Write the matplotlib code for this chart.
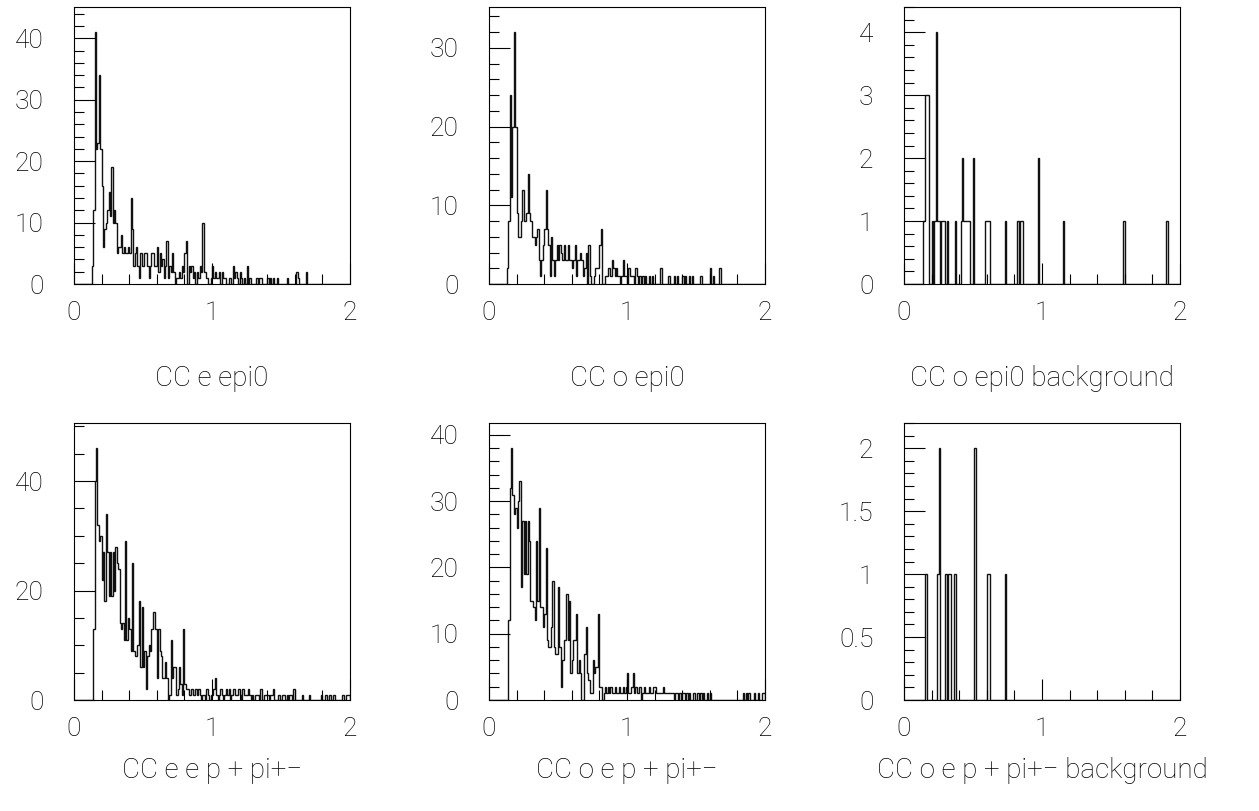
import matplotlib
matplotlib.use("Agg")
import matplotlib.pyplot as plt
import numpy as np
from matplotlib.ticker import MultipleLocator, FuncFormatter

# thin sans to mimic the PAW/Hershey look, DejaVu as fallback
plt.rcParams['font.family'] = ['Roboto', 'DejaVu Sans']
plt.rcParams['font.weight'] = 'light'

# 200 bins of width 0.01 between 0 and 2
nbins = 200
edges = np.linspace(0, 2, nbins + 1)

# dense histograms: first filled bin (lower edge) + consecutive counts
e_epi0_start = 0.13
e_epi0_counts = [3, 12, 41, 22, 23, 34, 22, 16, 6, 9, 10, 12, 15, 11, 19, 10, 12, 10, 5, 6,
                 6, 8, 5, 6, 5, 5, 6, 5, 14, 9, 3, 5, 6, 3, 1, 5, 3, 3, 5, 5,
                 3, 1, 3, 5, 5, 3, 3, 6, 2, 5, 3, 4, 1, 3, 7, 1, 3, 2, 5, 2,
                 0, 1, 1, 2, 1, 3, 2, 5, 7, 0, 3, 2, 3, 1, 2, 0, 2, 1, 3, 2,
                 10, 2, 2, 1, 0, 0, 1, 3, 1, 2, 1, 1, 2, 0, 2, 1, 1, 0, 0, 1,
                 1, 0, 3, 1, 2, 1, 0, 2, 1, 0, 1, 0, 3, 0, 1, 0, 0, 0, 0, 1,
                 0, 1, 1, 0, 0, 0, 0, 1, 0, 1, 0, 1, 0, 0, 1, 0, 0, 0, 0, 0,
                 0, 1, 0, 0, 0, 0, 0, 0, 2, 1, 0, 0, 0, 0, 0, 2]

o_epi0_start = 0.13
o_epi0_counts = [2, 8, 24, 11, 20, 32, 20, 9, 6, 6, 8, 12, 8, 8, 9, 14, 9, 8, 6, 6,
                 5, 6, 7, 3, 1, 3, 5, 7, 12, 7, 5, 1, 6, 3, 1, 3, 5, 3, 5, 4,
                 3, 5, 3, 3, 5, 3, 3, 2, 3, 5, 1, 3, 3, 4, 3, 1, 2, 4, 0, 5,
                 1, 0, 0, 1, 2, 2, 2, 5, 7, 0, 0, 1, 1, 2, 2, 1, 3, 2, 1, 2,
                 1, 1, 0, 1, 3, 1, 1, 0, 2, 1, 1, 1, 0, 2, 1, 0, 1, 0, 1, 0,
                 1, 0, 0, 1, 0, 1, 0, 0, 0, 0, 0, 2, 0, 0, 0, 0, 0, 1, 0, 0,
                 0, 1, 0, 1, 0, 0, 0, 1, 0, 1, 0, 0, 1, 0, 1, 0, 0, 0, 0, 0,
                 1, 0, 0, 0, 0, 0, 0, 2, 0, 1, 0, 0, 0, 0, 2]

e_epp_start = 0.14
e_epp_counts = [13, 40, 46, 32, 29, 30, 22, 27, 18, 34, 27, 19, 27, 19, 27, 20, 28, 25, 24, 14,
                13, 14, 11, 29, 11, 15, 13, 9, 25, 9, 8, 8, 10, 18, 6, 17, 6, 9, 2, 8,
                10, 9, 13, 16, 16, 13, 4, 13, 9, 8, 4, 4, 7, 4, 0, 1, 11, 4, 6, 6,
                1, 2, 6, 3, 1, 13, 3, 2, 2, 1, 1, 2, 1, 1, 2, 1, 2, 1, 0, 1,
                1, 0, 2, 1, 0, 1, 1, 2, 4, 1, 0, 1, 2, 1, 0, 1, 2, 1, 2, 0,
                1, 2, 2, 1, 1, 2, 1, 0, 2, 1, 1, 1, 2, 1, 0, 1, 0, 1, 1, 1,
                0, 2, 0, 0, 1, 1, 1, 0, 1, 1, 2, 0, 0, 0, 1, 0, 0, 1, 1, 0,
                1, 0, 1, 1, 0, 2, 0, 0, 0, 0, 0, 1, 0, 0, 0, 0, 1, 0, 0, 0,
                0, 0, 0, 0, 0, 1, 0, 0, 1, 0, 0, 1, 0, 0, 1, 0, 0, 0, 0, 0,
                1, 1, 0, 1, 1, 1]

o_epp_start = 0.14
o_epp_counts = [12, 32, 38, 31, 28, 29, 26, 30, 33, 17, 27, 19, 27, 19, 27, 24, 15, 15, 14, 12,
                24, 15, 29, 14, 14, 11, 13, 23, 9, 8, 8, 11, 18, 8, 7, 7, 17, 8, 2, 6,
                9, 9, 16, 9, 15, 4, 6, 9, 9, 13, 4, 6, 4, 0, 0, 7, 11, 4, 3, 1,
                1, 6, 4, 5, 5, 13, 2, 2, 0, 1, 2, 1, 2, 1, 2, 1, 1, 2, 1, 1,
                2, 1, 1, 2, 1, 2, 4, 1, 1, 2, 4, 1, 2, 1, 1, 2, 0, 1, 2, 1,
                1, 1, 2, 1, 1, 2, 2, 1, 1, 1, 1, 1, 2, 1, 1, 1, 1, 1, 1, 1,
                0, 1, 1, 0, 1, 0, 1, 1, 0, 1, 0, 1, 0, 0, 1, 0, 0, 1, 0, 1,
                0, 1, 0, 0, 1, 0, 1, 0, 0, 0, 0, 0, 0, 0, 0, 0, 0, 0, 0, 0,
                0, 0, 0, 0, 0, 0, 0, 0, 0, 0, 1, 0, 1, 0, 1, 0, 0, 0, 1, 0,
                0, 1, 0, 0, 1, 1]

# sparse (background) histograms: bin lower edges and counts
bg_epi0_x = [0.14, 0.15, 0.16, 0.17, 0.20, 0.22, 0.23, 0.24, 0.25, 0.27, 0.28, 0.29,
             0.31, 0.37, 0.41, 0.42, 0.43, 0.44, 0.45, 0.46, 0.47, 0.50, 0.59, 0.60,
             0.61, 0.73, 0.82, 0.84, 0.85, 0.97, 1.15, 1.59, 1.90]
bg_epi0_n = [1, 3, 3, 3, 1, 1, 4, 1, 1, 1, 1, 1,
             1, 1, 1, 2, 1, 1, 1, 1, 1, 2, 1, 1,
             1, 1, 1, 1, 1, 2, 1, 1, 1]

bg_epp_x = [0.15, 0.16, 0.24, 0.25, 0.30, 0.32, 0.33, 0.36, 0.37, 0.51, 0.60, 0.61, 0.73]
bg_epp_n = [1, 1, 1, 2, 1, 1, 1, 1, 1, 2, 1, 1, 1]

titles = ["CC e epi0", "CC o epi0", "CC o epi0 background",
          "CC e e p + pi+\u2212", "CC o e p + pi+\u2212", "CC o e p + pi+\u2212 background"]


def dense(start, counts):
    h = np.zeros(nbins)
    i0 = int(round(start / 0.01))
    h[i0:i0 + len(counts)] = counts
    return h


def sparse(xs, ns):
    h = np.zeros(nbins)
    for x, n in zip(xs, ns):
        h[int(round(x / 0.01))] = n
    return h


hists = [dense(e_epi0_start, e_epi0_counts),
         dense(o_epi0_start, o_epi0_counts),
         sparse(bg_epi0_x, bg_epi0_n),
         dense(e_epp_start, e_epp_counts),
         dense(o_epp_start, o_epp_counts),
         sparse(bg_epp_x, bg_epp_n)]

# (major, minor) y tick steps per panel
ysteps = [(10, 2), (10, 2), (1, 0.2), (20, 5), (10, 2), (0.5, 0.1)]

W, H = 1259, 811
fig = plt.figure(figsize=(W / 100, H / 100), dpi=100)

lefts = [74, 489, 904]
tops = [7, 423]
aw, ah = 276, 277
title_y = [378, 770]

for k, (h, title) in enumerate(zip(hists, titles)):
    r, c = divmod(k, 3)
    ax = fig.add_axes([lefts[c] / W, 1 - (tops[r] + ah) / H, aw / W, ah / H])
    ax.stairs(h, edges, color='#111111', linewidth=1.0, baseline=0)
    ax.set_xlim(0, 2)
    ax.set_ylim(0, 1.1 * h.max())

    mj, mn = ysteps[k]
    ax.xaxis.set_major_locator(MultipleLocator(1))
    ax.xaxis.set_minor_locator(MultipleLocator(0.2))
    ax.yaxis.set_major_locator(MultipleLocator(mj))
    ax.yaxis.set_minor_locator(MultipleLocator(mn))
    ax.yaxis.set_major_formatter(FuncFormatter(lambda v, p: f"{v:g}"))
    ax.xaxis.set_major_formatter(FuncFormatter(lambda v, p: f"{v:g}"))

    ax.tick_params(which='both', direction='in', top=False, right=False, width=0.8, colors='black')
    ax.tick_params(which='major', length=15, labelsize=19)
    ax.tick_params(which='minor', length=7.2)
    ax.tick_params(axis='y', which='major', pad=22)
    ax.tick_params(axis='x', which='major', pad=12)
    for s in ax.spines.values():
        s.set_linewidth(0.8)

    fig.text((lefts[c] + aw / 2) / W, 1 - title_y[r] / H, title,
             ha='center', va='center', fontsize=20)

fig.savefig("out.png", dpi=100)
